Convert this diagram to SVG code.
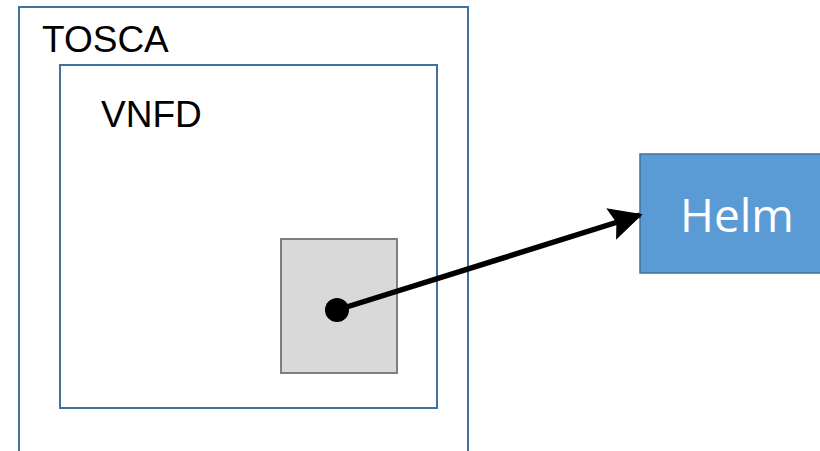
<svg xmlns="http://www.w3.org/2000/svg" width="820" height="451" viewBox="0 0 820 451">
<defs>
<style>
.frame{fill:#fff;stroke:#41719c;stroke-width:2}
.lbl{font-family:"Liberation Sans",Arial,sans-serif;font-size:37px;fill:#000}
</style>
<marker id="ah" markerWidth="6" markerHeight="6" refX="5.5" refY="3" orient="auto" markerUnits="strokeWidth">
<path d="M0,0 L6,3 L0,6 L1,3 z" fill="#000"/>
</marker>
</defs>
<rect width="820" height="451" fill="#fff"/>
<g id="tosca">
<path class="frame" d="M19,452 V7 H468 V452"/>
<text class="lbl" x="42" y="52">TOSCA</text>
</g>
<g id="vnfd">
<rect class="frame" x="60" y="65" width="377" height="343"/>
<text class="lbl" x="101" y="127">VNFD</text>
</g>
<g id="artifact">
<rect x="281" y="239" width="116" height="134" fill="#d9d9d9" stroke="#7f7f7f" stroke-width="2"/>
</g>
<g id="helm">
<rect x="640" y="154" width="182" height="119" fill="#5b9bd5" stroke="#41719c" stroke-width="1.5"/>
<text x="737" y="232" text-anchor="middle" font-family="'Open Sans','Noto Sans',sans-serif" font-size="46" fill="#fff">Helm</text>
</g>
<g id="connectors">
<circle cx="337" cy="310" r="12" fill="#000"/>
<line x1="337" y1="310" x2="640" y2="215" stroke="#000" stroke-width="5.5" marker-end="url(#ah)"/>
</g>
</svg>
